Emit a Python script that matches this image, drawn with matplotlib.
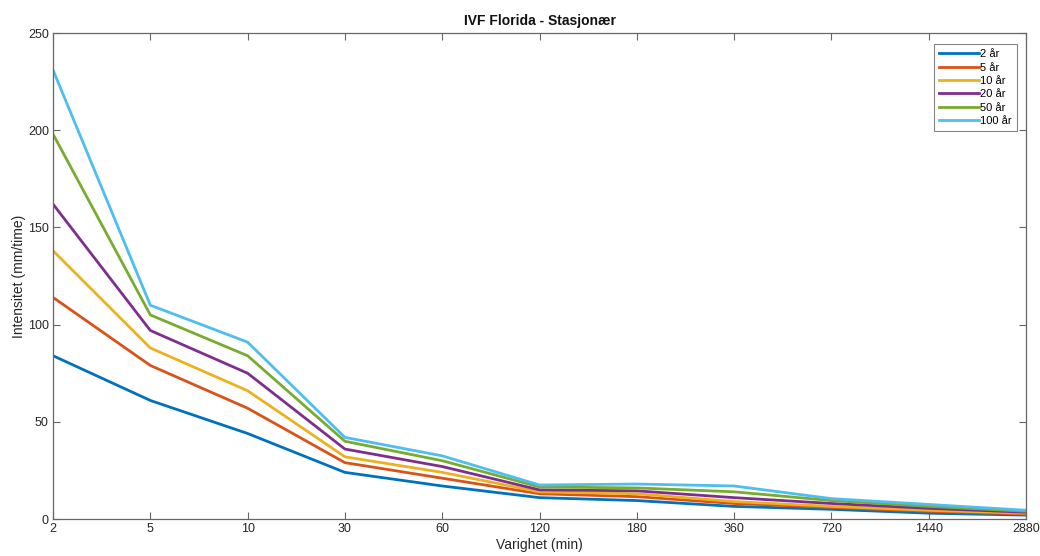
import matplotlib
matplotlib.use("Agg")
import matplotlib.pyplot as plt

plt.rcParams['font.family'] = ['Liberation Sans', 'DejaVu Sans']

durations = ["2", "5", "10", "30", "60", "120", "180", "360", "720", "1440", "2880"]
series_labels = ["2 år", "5 år", "10 år", "20 år", "50 år", "100 år"]
v2 = [84, 61, 44, 24, 17, 11, 9.5, 6.5, 5, 3, 2]
v5 = [114, 79, 57, 29, 21, 13, 11.5, 8, 6, 4, 2.5]
v10 = [138, 88, 66, 32, 24, 14, 13, 9, 6.5, 4.5, 3]
v20 = [162, 97, 75, 36, 27, 15, 14.5, 11, 8, 5.5, 3.5]
v50 = [198, 105, 84, 40, 30, 16.5, 16, 14, 9.5, 6.5, 4]
v100 = [231, 110, 91, 42, 32.5, 17.5, 18, 17, 10.5, 7.5, 4.5]
all_series = [v2, v5, v10, v20, v50, v100]
colors = ["#0072BD", "#D95319", "#EDB120", "#7E2F8E", "#77AC30", "#4DBEEE"]

fig = plt.figure(figsize=(10.4, 5.56), dpi=100)
ax = fig.add_axes([0.051, 0.0665, 0.9355, 0.874])
x = list(range(len(durations)))
for vals, lab, c in zip(all_series, series_labels, colors):
    ax.plot(x, vals, color=c, lw=2, label=lab)

ax.set_xlim(0, len(durations) - 1)
ax.set_ylim(0, 250)
ax.set_xticks(x)
ax.set_xticklabels(durations)
ax.set_yticks([0, 50, 100, 150, 200, 250])
gray = "#262626"
for s in ax.spines.values():
    s.set_color("#666666")
    s.set_linewidth(0.9)
ax.tick_params(direction='in', length=5, width=0.8, colors="#666666", labelcolor=gray,
               labelsize=9, top=True, right=True, pad=3)
ax.set_xlabel("Varighet (min)", fontsize=10, color=gray, labelpad=2)
ax.set_ylabel("Intensitet (mm/time)", fontsize=10, color=gray, labelpad=1)
ax.set_title("IVF Florida - Stasjonær", fontsize=10, fontweight='bold', color="#111111", pad=6)

leg = ax.legend(loc='upper right', bbox_to_anchor=(0.9908, 0.977), fontsize=8,
                frameon=True, fancybox=False, edgecolor="#666666", handlelength=3.6,
                handletextpad=0.15, labelspacing=0.3, borderpad=0.45, borderaxespad=0.0)
leg.get_frame().set_linewidth(0.8)

fig.savefig("out.png", dpi=100)
